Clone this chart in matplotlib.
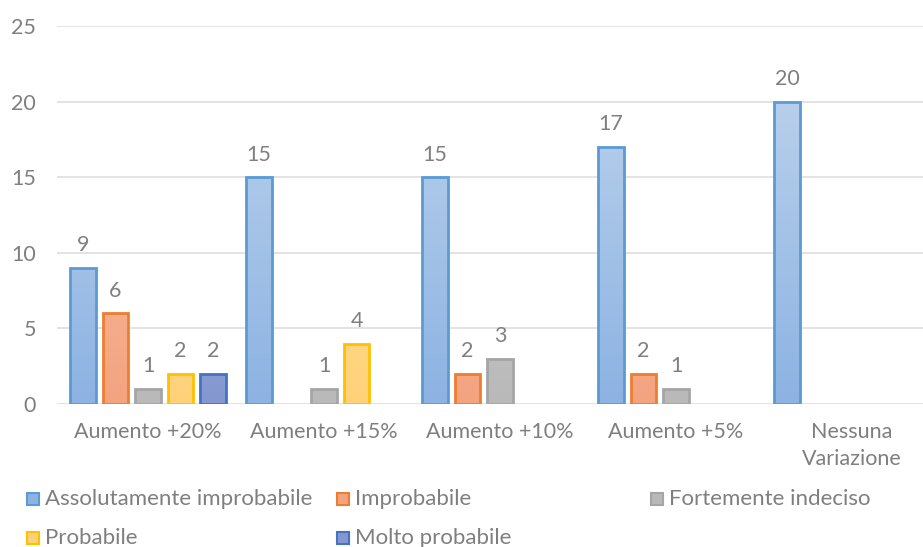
#!/usr/bin/env python3
"""
Grafico a barre raggruppate: probabilità di acquisto per variazione di prezzo
"""

import matplotlib
matplotlib.use("Agg")
import matplotlib.pyplot as plt
from matplotlib.patches import Rectangle
from matplotlib.colors import LinearSegmentedColormap
import numpy as np

# Dati
categorie = ["Aumento +20%", "Aumento +15%", "Aumento +10%", "Aumento +5%", "Nessuna\nVariazione"]
serie = ["Assolutamente improbabile", "Improbabile", "Fortemente indeciso",
         "Probabile", "Molto probabile"]
assolutamente_improbabile = [9, 15, 15, 17, 20]
improbabile = [6, 0, 2, 2, 0]
fortemente_indeciso = [1, 1, 3, 1, 0]
probabile = [2, 4, 0, 0, 0]
molto_probabile = [2, 0, 0, 0, 0]
y_ticks = [0, 5, 10, 15, 20, 25]

valori = [assolutamente_improbabile, improbabile, fortemente_indeciso,
          probabile, molto_probabile]

# Colori (riempimento alto, riempimento basso, bordo)
colori = [
    ("#B7CFEB", "#8DB3E2", "#5B9BD5"),
    ("#F9C3AB", "#F4A37F", "#ED7D31"),
    ("#D3D3D3", "#B9B9B9", "#A5A5A5"),
    ("#FFE3A0", "#FFD27A", "#FFC000"),
    ("#A9B9E1", "#8497D0", "#4472C4"),
]
TESTO = "#7F7F7F"
GRIGLIA = "#DEDEDE"

plt.rcParams['font.family'] = ['Lato', 'DejaVu Sans']

W, H = 923, 547
fig = plt.figure(figsize=(W / 100, H / 100), dpi=100)
ax = fig.add_axes([57 / W, (H - 404) / H, (W - 57) / W, 378 / H])

x = np.arange(len(categorie))
passo = 0.185
larghezza = 0.145

for i, (vals, (c_top, c_bot, c_edge)) in enumerate(zip(valori, colori)):
    cmap = LinearSegmentedColormap.from_list(f"g{i}", [c_bot, c_top])
    grad = np.linspace(0, 1, 100).reshape(-1, 1)
    pos = x + (i - 2) * passo
    bars = ax.bar(pos, vals, width=larghezza, facecolor="none",
                  edgecolor=c_edge, linewidth=2, zorder=3)
    for b, v in zip(bars, vals):
        if v <= 0:
            b.set_visible(False)
            continue
        x0, w_ = b.get_x(), b.get_width()
        im = ax.imshow(grad, cmap=cmap, origin="lower", aspect="auto",
                       extent=(x0, x0 + w_, 0, 20), zorder=2)
        im.set_clip_path(b)
        ax.annotate(str(v), (x0 + w_ / 2, v), xytext=(0, 9),
                    textcoords="offset points", ha="center", va="bottom",
                    fontsize=15.5, color=TESTO)

ax.set_xlim(-0.517, 4.403)
ax.set_ylim(0, 25)
ax.set_yticks(y_ticks)
ax.set_xticks(x)
ax.set_xticklabels(categorie, linespacing=1.45)
ax.tick_params(length=0, labelsize=15.5, labelcolor=TESTO)
ax.tick_params(axis="y", pad=15)
ax.tick_params(axis="x", pad=13)
for s in ax.spines.values():
    s.set_visible(False)
ax.grid(axis="y", color=GRIGLIA, linewidth=1.2, zorder=0)
ax.set_axisbelow(True)

# Legenda
posizioni = [(27, 499), (337, 499), (651, 499), (27, 538), (337, 538)]
for nome, (c_top, c_bot, c_edge), (px, py) in zip(serie, colori, posizioni):
    fig.add_artist(Rectangle((px / W, (H - py - 6) / H), 12 / W, 12 / H,
                             facecolor=c_bot, edgecolor=c_edge, linewidth=1.5,
                             transform=fig.transFigure))
    fig.text((px + 18) / W, (H - py) / H, nome, ha="left", va="center",
             fontsize=16, color=TESTO)

fig.savefig("out.png", dpi=100)
